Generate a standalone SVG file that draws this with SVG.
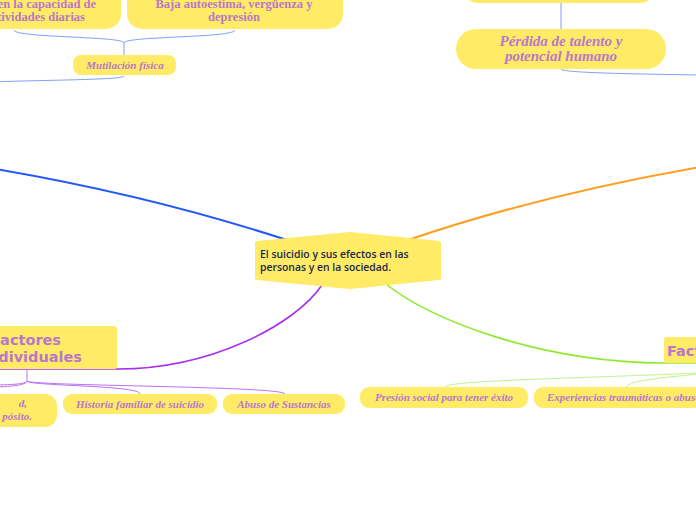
<svg xmlns="http://www.w3.org/2000/svg" width="696" height="520" viewBox="0 0 696 520">
<style>
.nd{fill:#ffeb66}
.t{font-family:"Liberation Serif",serif;font-weight:bold;fill:#b977c9}
.ti{font-family:"Liberation Serif",serif;font-weight:bold;font-style:italic;fill:#b977c9}
.th{font-family:"DejaVu Sans",sans-serif;font-weight:bold;fill:#b977c9;font-size:14.5px}
.tc{font-family:"Open Sans",sans-serif;font-weight:600;fill:#1c2848;font-size:10.4px}
.c{fill:none}
.sb{stroke:#7f9ffc;stroke-width:1}
.sp{stroke:#bb72f2;stroke-width:1}
.sg{stroke:#c3f28c;stroke-width:1}
</style>
<rect width="696" height="520" fill="#ffffff"/>
<g id="connectors" class="c">
<path d="M290,241 Q150,195 -10,168" stroke="#2457fb" stroke-width="2"/>
<path d="M408,240 Q540,195 700,167" stroke="#ff9f1f" stroke-width="2"/>
<path d="M322,285 C295,325 210,369 118,369 L-5,369" stroke="#a730ee" stroke-width="1.6"/>
<path d="M386,284 C430,320 540,362 663,363 L700,363" stroke="#8cea2a" stroke-width="1.6"/>
<path class="sb" d="M14,30 C14,38 124,36 124,43"/>
<path class="sb" d="M235,30 C235,38 124,36 124,43"/>
<path class="sb" d="M124,43 L124,55"/>
<path class="sb" d="M124,76 C124,80 40,80 -10,82"/>
<path class="sb" d="M561,3 L561,29"/>
<path class="sb" d="M561,69 C561,73 640,74 700,75"/>
<path class="sp" d="M27,369 L27,381"/>
<path class="sp" d="M27,381 C27,386 140,385 140,394"/>
<path class="sp" d="M27,381 C27,386 285,386 285,394"/>
<path class="sp" d="M27,381 C27,384 10,385 -10,385"/>
<path class="sp" d="M27,381 C27,385 10,387 -10,387"/>
<path class="sg" d="M445,387 C445,380 600,378 720,372"/>
<path class="sg" d="M627,387 C627,380 670,377 720,372"/>
</g>
<g id="center">
<path class="nd" d="M257,243 L350,234 L439,243 L439,278 L350,287 L257,278 Z" stroke="#ffeb66" stroke-width="4" stroke-linejoin="round"/>
<text class="tc" x="260" y="258">El suicidio y sus efectos en las</text>
<text class="tc" x="260" y="271">personas y en la sociedad.</text>
</g>
<g id="node-capacidad">
<rect class="nd" x="-60" y="-20" width="181" height="49" rx="15"/>
<text class="t" font-size="12.5" text-anchor="end" x="96" y="8">en la capacidad de</text>
<text class="t" font-size="12.5" text-anchor="end" x="85" y="21">actividades diarias</text>
</g>
<g id="node-autoestima">
<rect class="nd" x="127" y="-20" width="216" height="49" rx="15"/>
<text class="t" font-size="12.5" text-anchor="middle" x="234" y="8">Baja autoestima, vergüenza y</text>
<text class="t" font-size="12.5" text-anchor="middle" x="234" y="21">depresión</text>
</g>
<g id="node-mutilacion">
<rect class="nd" x="73" y="55" width="103" height="20" rx="8"/>
<text class="ti" font-size="11" text-anchor="middle" x="125" y="68.5">Mutilación física</text>
</g>
<g id="node-top-right">
<rect class="nd" x="465" y="-30" width="188" height="33" rx="12"/>
</g>
<g id="node-perdida">
<rect class="nd" x="456" y="29" width="210" height="40" rx="20"/>
<text class="ti" font-size="15" text-anchor="middle" x="561" y="46">Pérdida de talento y</text>
<text class="ti" font-size="15" text-anchor="middle" x="561" y="61">potencial humano</text>
</g>
<g id="node-factores-individuales">
<rect class="nd" x="-40" y="326" width="157" height="43" rx="3"/>
<text class="th" text-anchor="end" x="61" y="345">Factores</text>
<text class="th" text-anchor="end" x="82" y="362">individuales</text>
</g>
<g id="node-left-bottom">
<rect class="nd" x="-80" y="394" width="137" height="33" rx="12"/>
<text class="ti" font-size="11" text-anchor="end" x="27" y="407">d,</text>
<text class="ti" font-size="11" text-anchor="end" x="32" y="420">pósito.</text>
</g>
<g id="node-historia">
<rect class="nd" x="63" y="394" width="154" height="20" rx="9"/>
<text class="ti" font-size="11" text-anchor="middle" x="140" y="407.5">Historia familiar de suicidio</text>
</g>
<g id="node-abuso">
<rect class="nd" x="223" y="394" width="122" height="20" rx="9"/>
<text class="ti" font-size="11" text-anchor="middle" x="284" y="407.5">Abuso de Sustancias</text>
</g>
<g id="node-presion">
<rect class="nd" x="360" y="387" width="168" height="21" rx="9"/>
<text class="ti" font-size="11" text-anchor="middle" x="444" y="401">Presión social para tener éxito</text>
</g>
<g id="node-experiencias">
<rect class="nd" x="534" y="387" width="200" height="21" rx="9"/>
<text class="ti" font-size="11" x="547" y="401">Experiencias traumáticas o abuso</text>
</g>
<g id="node-factores-sociales">
<rect class="nd" x="664" y="337" width="60" height="26" rx="3"/>
<text class="th" x="667" y="356">Factores</text>
</g>
</svg>
